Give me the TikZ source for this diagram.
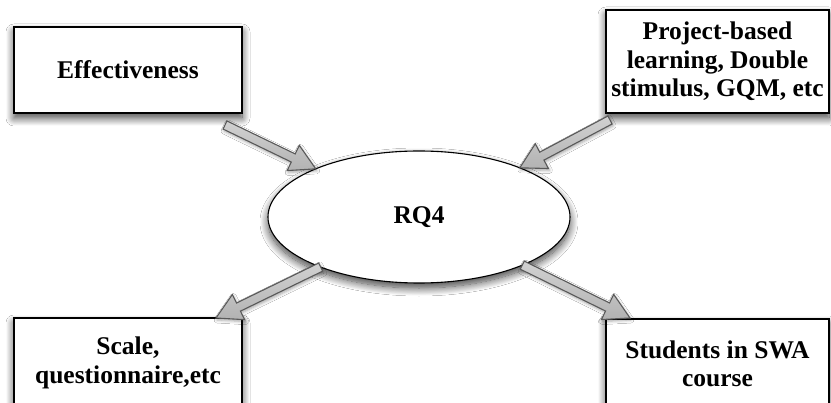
\documentclass[tikz,border=0pt]{standalone}
\usepackage{fontspec}
\setmainfont{Liberation Serif}
\usetikzlibrary{calc,shapes.geometric,shadows.blur}

\tikzset{
  softshadow/.style={blur shadow={shadow xshift=0pt, shadow yshift=-5pt,
      shadow blur radius=8pt, shadow blur steps=14, shadow opacity=75}},
  topic/.style={draw=black, line width=1.4pt, fill=white, rectangle,
      inner sep=0pt, outer sep=0pt, align=center, softshadow,
      font=\fontsize{25.5}{28.5}\selectfont\bfseries},
  hub/.style={draw=black, line width=1.1pt, fill=white, ellipse,
      inner sep=0pt, outer sep=0pt, minimum width=302pt, minimum height=132pt,
      softshadow, font=\fontsize{25.5}{28.5}\selectfont\bfseries},
  fatarrow/.style={draw=black!65, line width=1.1pt, line join=miter,
      top color=black!18, bottom color=black!30,
      blur shadow={shadow xshift=1pt, shadow yshift=-2pt,
      shadow blur radius=3pt, shadow opacity=35}}
}

% block arrow from tail #1 to tip #2
\newcommand{\fatarrowdraw}[2]{%
  \coordinate (hb) at ($(#2)!25pt!(#1)$);
  \path[fatarrow]
    ($(#1)!4.5pt!90:(#2)$) -- ($(hb)!4.5pt!90:(#2)$) -- ($(hb)!14pt!90:(#2)$)
    -- (#2)
    -- ($(hb)!14pt!-90:(#2)$) -- ($(hb)!4.5pt!-90:(#2)$) -- ($(#1)!4.5pt!-90:(#2)$)
    -- cycle;
}

\begin{document}
\begin{tikzpicture}[x=1pt, y=-1pt]
  \useasboundingbox (0,0) rectangle (831,403);
  \clip (0,0) rectangle (831,403);
  \fill[white] (0,0) rectangle (831,403);

  % central research question
  \node[hub] (rq) at (419,217) {RQ4};

  % surrounding topics
  \node[topic, minimum width=228pt, minimum height=86pt] (eff) at (128,70) {Effectiveness};
  \node[topic, minimum width=223pt, minimum height=103pt] (pbl) at (717.5,61.5)
    {Project-based\\learning, Double\\stimulus, GQM, etc};
  \node[topic, minimum width=228pt, minimum height=90pt] (scale) at (128,363)
    {Scale,\\questionnaire,etc};
  \node[topic, minimum width=223pt, minimum height=90pt] (stu) at (717.5,364)
    {Students in SWA\\course};

  % arrow end points
  \coordinate (effout) at ($(eff.south east)+(-17,12)$);
  \coordinate (pblout) at ($(pbl.south west)+(4,7)$);
  \coordinate (rqin1) at (rq.155);
  \coordinate (rqin2) at (rq.26);
  \coordinate (rqout1) at (rq.207);
  \coordinate (rqout2) at (rq.-25);
  \coordinate (scalein) at ($(scale.north east)+(-26,0)$);
  \coordinate (stuin) at ($(stu.north west)+(24,-1)$);

  \fatarrowdraw{effout}{rqin1}
  \fatarrowdraw{pblout}{rqin2}
  \fatarrowdraw{rqout1}{scalein}
  \fatarrowdraw{rqout2}{stuin}
\end{tikzpicture}
\end{document}
